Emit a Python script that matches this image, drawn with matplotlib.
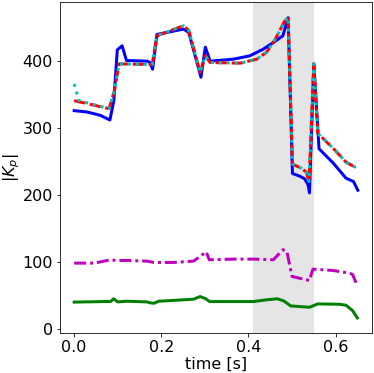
import numpy as np
import matplotlib
matplotlib.use("Agg")
import matplotlib.pyplot as plt

# blue solid
t_blue = [0.0, 0.03, 0.06, 0.082, 0.091, 0.099, 0.11, 0.12, 0.168, 0.174, 0.180, 0.19,
          0.251, 0.263, 0.291, 0.301, 0.312, 0.365, 0.403, 0.434, 0.464, 0.479, 0.491,
          0.501, 0.518, 0.529, 0.537, 0.540, 0.55, 0.562, 0.594, 0.624, 0.641, 0.651]
k_blue = [326, 324, 319, 312, 341, 417, 423, 401, 400, 398, 388, 440,
          448, 443, 376, 421, 400, 403, 408, 418, 431, 438, 465,
          232, 228, 224, 215, 203, 396, 269, 248, 225, 220, 207]

# red dashed
t_red = [0.0, 0.08, 0.092, 0.103, 0.179, 0.19, 0.251, 0.263, 0.289, 0.301, 0.312,
         0.381, 0.419, 0.441, 0.46, 0.472, 0.483, 0.491, 0.501, 0.521, 0.533, 0.539, 0.55,
         0.559, 0.594, 0.624, 0.643, 0.65]
k_red = [341, 329, 355, 396, 395, 438, 453, 446, 383, 408, 398,
         397, 403, 413, 431, 446, 460, 466, 246, 240, 234, 220, 396,
         292, 270, 249, 242, 242]

# cyan dotted
t_cyan = [0.0, 0.011, 0.08, 0.092, 0.103, 0.179, 0.19, 0.251, 0.263, 0.289, 0.301, 0.312,
          0.381, 0.419, 0.441, 0.46, 0.472, 0.483, 0.491, 0.501, 0.521, 0.533, 0.539, 0.55,
          0.559, 0.594, 0.624, 0.643, 0.65]
k_cyan = [366, 341, 329, 355, 396, 395, 438, 453, 446, 383, 408, 398,
          397, 403, 413, 431, 446, 460, 466, 246, 240, 234, 220, 396,
          292, 270, 249, 242, 242]

# magenta dash-dot
t_mag = [0.0, 0.046, 0.084, 0.0955, 0.12, 0.167, 0.183, 0.228, 0.274, 0.289, 0.303,
         0.31, 0.365, 0.411, 0.457, 0.479, 0.488, 0.5, 0.54, 0.548, 0.594, 0.632,
         0.639, 0.65]
k_mag = [98, 98, 103, 102, 102, 101, 99, 99, 101, 108, 115,
         103, 104, 104, 103, 118, 116, 78, 72, 89, 87, 83,
         81, 64]

# green solid
t_green = [0.0, 0.084, 0.0905, 0.1, 0.12, 0.167, 0.175, 0.183, 0.194, 0.274, 0.289, 0.301,
           0.311, 0.411, 0.44, 0.466, 0.481, 0.497, 0.54, 0.559, 0.609, 0.624,
           0.639, 0.65]
k_green = [39.7, 40.7, 44.7, 40, 41, 40, 38.5, 38, 41, 44, 48, 45,
           40.5, 40.5, 43, 44.7, 41.5, 34, 32, 37, 36.5, 35,
           27, 16]

plt.rcParams['font.size'] = 16

fig = plt.figure(figsize=(374/72, 373/72), dpi=72)
ax = fig.add_axes([60/374, 40/373, 312/374, 331/373])

ax.axvspan(0.41, 0.55, color='gray', alpha=0.2, lw=0)
ax.plot(t_blue, k_blue, 'b-', lw=3)
ax.plot(t_red, k_red, 'r--', lw=3)
ax.plot(t_cyan, k_cyan, 'c:', lw=3)
ax.plot(t_mag, k_mag, 'm-.', lw=3, dashes=(4, 1.3, 1, 1.3))
ax.plot(t_green, k_green, 'g-', lw=3)

ax.set_xlabel('time [s]', labelpad=2)
ax.set_ylabel(r'$|K_p|$', labelpad=1)
ax.set_xticks([0.0, 0.2, 0.4, 0.6])
ax.set_yticks([0, 100, 200, 300, 400])

fig.savefig('out.png', dpi=72)
